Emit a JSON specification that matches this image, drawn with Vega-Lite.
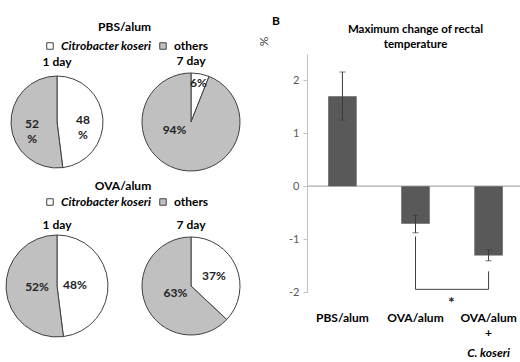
{
  "$schema": "https://vega.github.io/schema/vega-lite/v6.json",
  "background": "white",
  "padding": {"left": 4, "top": 14, "right": 0, "bottom": 0},
  "config": {
    "view": {"stroke": null},
    "font": "Lato",
    "title": {"font": "Lato", "fontSize": 12, "fontWeight": "bold", "color": "black", "frame": "group"},
    "axis": {"grid": false}
  },
  "datasets": {
    "pies": [
      {"group": "PBS/alum", "day": "1 day", "category": "Citrobacter koseri", "value": 48, "label": "48\n%"},
      {"group": "PBS/alum", "day": "1 day", "category": "others", "value": 52, "label": "52\n%"},
      {"group": "PBS/alum", "day": "7 day", "category": "Citrobacter koseri", "value": 6, "label": "6%"},
      {"group": "PBS/alum", "day": "7 day", "category": "others", "value": 94, "label": "94%"},
      {"group": "OVA/alum", "day": "1 day", "category": "Citrobacter koseri", "value": 48, "label": "48%"},
      {"group": "OVA/alum", "day": "1 day", "category": "others", "value": 52, "label": "52%"},
      {"group": "OVA/alum", "day": "7 day", "category": "Citrobacter koseri", "value": 37, "label": "37%"},
      {"group": "OVA/alum", "day": "7 day", "category": "others", "value": 63, "label": "63%"}
    ],
    "temp": [
      {"treatment": "PBS/alum", "change": 1.7, "low": 1.25, "high": 2.16},
      {"treatment": "OVA/alum", "change": -0.71, "low": -0.88, "high": -0.55},
      {"treatment": "OVA/alum + C. koseri", "change": -1.31, "low": -1.41, "high": -1.2}
    ],
    "bracket": [
      {"from": "OVA/alum", "to": "OVA/alum", "top": -0.95, "bottom": -1.95},
      {"from": "OVA/alum", "to": "OVA/alum + C. koseri", "top": -1.95, "bottom": -1.95},
      {"from": "OVA/alum + C. koseri", "to": "OVA/alum + C. koseri", "top": -1.61, "bottom": -1.95}
    ]
  },
  "hconcat": [
    {
      "vconcat": [
        {
          "title": {"text": "PBS/alum", "offset": 6, "anchor": "middle", "frame": "bounds"},
          "hconcat": [
            {
              "width": 100, "height": 136,
              "title": {"text": "1 day", "offset": -29},
              "data": {"name": "pies"},
              "transform": [{"filter": "datum.group == 'PBS/alum' && datum.day == '1 day'"}],
              "encoding": {
                "theta": {"field": "value", "type": "quantitative", "stack": true},
                "order": {"field": "category", "type": "nominal"}
              },
              "layer": [
                {"mark": {"type": "arc", "outerRadius": 46, "stroke": "#404040", "strokeWidth": 1},
                 "encoding": {"color": {"field": "category", "type": "nominal",
                   "scale": {"domain": ["Citrobacter koseri", "others"], "range": ["#ffffff", "#c0c0c0"]},
                   "legend": {"orient": "none", "legendX": 37, "legendY": -14, "direction": "horizontal", "title": null,
                     "symbolType": "square", "symbolSize": 42, "symbolStrokeColor": "#404040", "symbolStrokeWidth": 1,
                     "labelFont": "Lato", "labelFontSize": 12, "labelFontWeight": "bold", "labelColor": "black",
                     "labelFontStyle": {"expr": "datum.value == 'Citrobacter koseri' ? 'italic' : 'normal'"},
                     "labelOffset": 5, "columnPadding": 5, "padding": 0}}}},
                {"mark": {"type": "text", "radius": {"expr": "datum.category == 'others' ? 25 : 26"}, "fontWeight": "bold", "fontSize": 12, "lineBreak": "\n", "lineHeight": 15, "color": "#222222"},
                 "encoding": {"detail": {"field": "category", "type": "nominal"}, "text": {"field": "label", "type": "nominal"}}}
              ]
            },
            {
              "width": 100, "height": 136,
              "title": {"text": "7 day", "offset": -14},
              "data": {"name": "pies"},
              "transform": [{"filter": "datum.group == 'PBS/alum' && datum.day == '7 day'"}],
              "encoding": {
                "theta": {"field": "value", "type": "quantitative", "stack": true},
                "order": {"field": "category", "type": "nominal"}
              },
              "layer": [
                {"mark": {"type": "arc", "outerRadius": 49, "stroke": "#404040", "strokeWidth": 1},
                 "encoding": {"color": {"field": "category", "type": "nominal",
                   "scale": {"domain": ["Citrobacter koseri", "others"], "range": ["#ffffff", "#c0c0c0"]},
                   "legend": null}}},
                {"mark": {"type": "text", "radius": {"expr": "datum.category == 'others' ? 8 : 40"}, "dx": {"expr": "datum.category == 'others' ? -15 : 0"}, "fontWeight": "bold", "fontSize": 12, "color": "#222222"},
                 "encoding": {"detail": {"field": "category", "type": "nominal"}, "text": {"field": "label", "type": "nominal"}}}
              ]
            }
          ],
          "spacing": 34, "bounds": "flush",
          "resolve": {"scale": {"color": "independent"}}
        },
        {
          "title": {"text": "OVA/alum", "offset": 3, "anchor": "middle", "frame": "bounds"},
          "hconcat": [
            {
              "width": 100, "height": 136,
              "title": {"text": "1 day", "offset": -36},
              "data": {"name": "pies"},
              "transform": [{"filter": "datum.group == 'OVA/alum' && datum.day == '1 day'"}],
              "encoding": {
                "theta": {"field": "value", "type": "quantitative", "stack": true},
                "order": {"field": "category", "type": "nominal"}
              },
              "layer": [
                {"mark": {"type": "arc", "outerRadius": 51, "stroke": "#404040", "strokeWidth": 1},
                 "encoding": {"color": {"field": "category", "type": "nominal",
                   "scale": {"domain": ["Citrobacter koseri", "others"], "range": ["#ffffff", "#c0c0c0"]},
                   "legend": {"orient": "none", "legendX": 37, "legendY": -22, "direction": "horizontal", "title": null,
                     "symbolType": "square", "symbolSize": 42, "symbolStrokeColor": "#404040", "symbolStrokeWidth": 1,
                     "labelFont": "Lato", "labelFontSize": 12, "labelFontWeight": "bold", "labelColor": "black",
                     "labelFontStyle": {"expr": "datum.value == 'Citrobacter koseri' ? 'italic' : 'normal'"},
                     "labelOffset": 5, "columnPadding": 5, "padding": 0}}}},
                {"mark": {"type": "text", "radius": {"expr": "datum.category == 'others' ? 20 : 18"}, "fontWeight": "bold", "fontSize": 12, "color": "#222222"},
                 "encoding": {"detail": {"field": "category", "type": "nominal"}, "text": {"field": "label", "type": "nominal"}}}
              ]
            },
            {
              "width": 100, "height": 136,
              "title": {"text": "7 day", "offset": -14},
              "data": {"name": "pies"},
              "transform": [{"filter": "datum.group == 'OVA/alum' && datum.day == '7 day'"}],
              "encoding": {
                "theta": {"field": "value", "type": "quantitative", "stack": true},
                "order": {"field": "category", "type": "nominal"}
              },
              "layer": [
                {"mark": {"type": "arc", "outerRadius": 49, "stroke": "#404040", "strokeWidth": 1},
                 "encoding": {"color": {"field": "category", "type": "nominal",
                   "scale": {"domain": ["Citrobacter koseri", "others"], "range": ["#ffffff", "#c0c0c0"]},
                   "legend": null}}},
                {"mark": {"type": "text", "radius": {"expr": "datum.category == 'others' ? 17 : 25"}, "fontWeight": "bold", "fontSize": 12, "color": "#222222"},
                 "encoding": {"detail": {"field": "category", "type": "nominal"}, "text": {"field": "label", "type": "nominal"}}}
              ]
            }
          ],
          "spacing": 34, "bounds": "flush",
          "resolve": {"scale": {"color": "independent"}}
        }
      ],
      "spacing": -10,
      "resolve": {"scale": {"color": "independent"}}
    },
    {
      "title": {"text": "B", "anchor": "start", "dx": -35, "offset": -4},
      "vconcat": [
        {
          "width": 217, "height": 238,
          "title": {"text": ["Maximum change of rectal", "temperature"], "fontSize": 11.5, "lineHeight": 15, "offset": -14},
          "layer": [
            {"data": {"name": "temp"},
             "mark": {"type": "rule", "color": "#bfbfbf", "strokeWidth": 1},
             "encoding": {"y": {"datum": 0, "type": "quantitative"}}},
            {"data": {"name": "temp"},
             "mark": {"type": "bar", "color": "#595959"},
             "encoding": {
               "x": {"field": "treatment", "type": "nominal",
                 "scale": {"domain": ["PBS/alum", "OVA/alum", "OVA/alum + C. koseri"], "paddingInner": 0.61, "paddingOuter": 0.29},
                 "axis": {"title": null, "domain": false, "ticks": false, "tickSize": 0, "labelAngle": 0, "labelPadding": 20,
                   "labelFont": "Lato", "labelFontWeight": "bold", "labelFontSize": 12, "labelColor": "black", "labelLineHeight": 15,
                   "labelExpr": "datum.value == 'OVA/alum + C. koseri' ? ['OVA/alum', '+'] : datum.label"}},
               "y": {"field": "change", "type": "quantitative",
                 "scale": {"domain": [-2, 2.5], "nice": false, "zero": false},
                 "axis": {"title": "%", "values": [-2, -1.5, -1, -0.5, 0, 0.5, 1, 1.5, 2, 2.5], "labelOverlap": false,
                   "labelExpr": "'' + datum.value", "labelFont": "Lato", "labelColor": "#595959", "labelFontSize": 11,
                   "domainColor": "#bfbfbf", "tickColor": "#bfbfbf", "tickSize": 4, "labelPadding": 4,
                   "titleX": -44, "titleY": -13, "titleAlign": "center", "titleBaseline": "middle",
                   "titleFont": "Lato", "titleFontWeight": "normal", "titleFontSize": 12, "titleColor": "#404040"}}
             }},
            {"data": {"name": "temp"},
             "mark": {"type": "rule", "color": "#3a3a3a", "strokeWidth": 1},
             "encoding": {"x": {"field": "treatment", "type": "nominal"},
               "y": {"field": "low", "type": "quantitative"}, "y2": {"field": "high"}}},
            {"data": {"name": "temp"},
             "mark": {"type": "tick", "color": "#3a3a3a", "size": 6, "thickness": 1},
             "encoding": {"x": {"field": "treatment", "type": "nominal"}, "y": {"field": "low", "type": "quantitative"}}},
            {"data": {"name": "temp"},
             "mark": {"type": "tick", "color": "#3a3a3a", "size": 6, "thickness": 1},
             "encoding": {"x": {"field": "treatment", "type": "nominal"}, "y": {"field": "high", "type": "quantitative"}}},
            {"data": {"name": "bracket"},
             "mark": {"type": "rule", "color": "#404040", "strokeWidth": 1},
             "encoding": {"x": {"field": "from", "type": "nominal"}, "x2": {"field": "to"},
               "y": {"field": "top", "type": "quantitative"}, "y2": {"field": "bottom"}}},
            {"data": {"values": [{"note": "*"}]},
             "mark": {"type": "text", "fontSize": 16, "fontWeight": "bold", "dx": 36, "color": "#222222"},
             "encoding": {"x": {"datum": "OVA/alum", "type": "nominal"}, "y": {"datum": -2.2, "type": "quantitative"},
               "text": {"field": "note", "type": "nominal"}}},
            {"data": {"values": [{"note": "C. koseri"}]},
             "mark": {"type": "text", "fontSize": 12, "fontWeight": "bold", "fontStyle": "italic", "color": "black"},
             "encoding": {"x": {"datum": "OVA/alum + C. koseri", "type": "nominal"}, "y": {"datum": -3.15, "type": "quantitative"},
               "text": {"field": "note", "type": "nominal"}}}
          ]
        }
      ]
    }
  ],
  "spacing": 15,
  "resolve": {"scale": {"color": "independent"}}
}
